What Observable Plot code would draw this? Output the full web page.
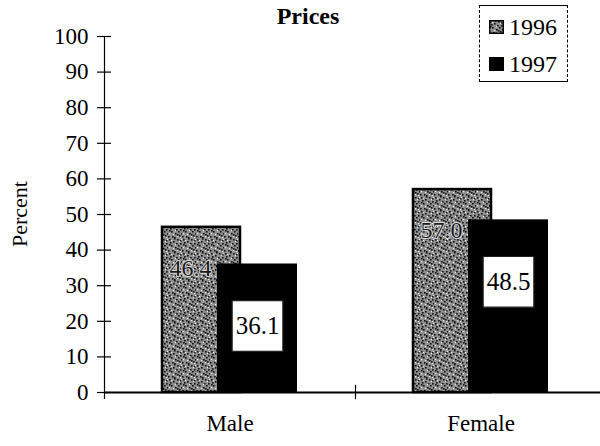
<!DOCTYPE html>
<html>
<head>
<meta charset="utf-8">
<script src="https://cdn.jsdelivr.net/npm/d3@7"></script>
<script src="https://cdn.jsdelivr.net/npm/@observablehq/plot@0.6"></script>
<style>
  html, body { margin: 0; padding: 0; background: white; }
  #wrap { position: relative; width: 600px; height: 446px; font-family: "Liberation Serif", "Times New Roman", serif; color: #000; }
  #chart svg, #chart svg text { font-family: "Liberation Serif", "Times New Roman", serif !important; }
  #title { position: absolute; left: 0; width: 616px; top: 3px; text-align: center; font-weight: bold; font-size: 24px; }
  #ylab { position: absolute; left: 20px; top: 214px; font-size: 22px; transform: translate(-50%, -50%) rotate(-90deg); white-space: nowrap; }
  #legend { position: absolute; left: 479px; top: 5px; width: 87px; height: 75px; border-top: 1px solid #000; border-bottom: 1px solid #000; border-left: 1px dashed #000; border-right: 1px dashed #000; }
  .item { position: absolute; left: 9px; font-size: 24px; line-height: 24px; display: flex; align-items: center; }
  .item svg { margin-right: 5px; }
</style>
</head>
<body>
<div id="wrap">
  <div id="chart"></div>
  <div id="title"></div>
  <div id="ylab"></div>
  <div id="legend"></div>
</div>
<script>
const title = "Prices";
const yLabel = "Percent";
const categories = ["Male", "Female"];
const years = ["1996", "1997"];
const values1996 = [46.4, 57.0];
const values1997 = [36.1, 48.5];
const labels1996 = ["46.4", "57.0"];
const labels1997 = ["36.1", "48.5"];
const yTicks = [0, 10, 20, 30, 40, 50, 60, 70, 80, 90, 100];

const data1996 = categories.map((c, i) => ({cat: c, value: values1996[i], label: labels1996[i]}));
const data1997 = categories.map((c, i) => ({cat: c, value: values1997[i], label: labels1997[i]}));

const serif = "'Liberation Serif', 'Times New Roman', serif";

const chart = Plot.plot({
  width: 600,
  height: 446,
  marginLeft: 104,
  marginRight: 0,
  marginTop: 36,
  marginBottom: 54,
  x: {domain: categories, range: [104, 606], padding: 0, axis: null},
  y: {domain: [0, 100], range: [392, 36], axis: null},
  style: {fontFamily: serif, fontSize: "22px", background: "white", color: "black", overflow: "visible"},
  marks: [
    Plot.barY(data1996, {x: "cat", y: "value", fill: "url(#stip)", stroke: "black", strokeWidth: 2.5, insetLeft: 58, insetRight: 115}),
    Plot.barY(data1997, {x: "cat", y: "value", fill: "black", insetLeft: 113, insetRight: 58}),
    Plot.text(data1996, {x: "cat", y: "value", text: "label", dx: -39.5, dy: 41, fill: "#1a1a1a", stroke: "#ddd", strokeWidth: 2, fontSize: 24, fontFamily: serif}),
    Plot.dot(data1997, {x: "cat", y: "value", symbol: "square", r: 28.6, fill: "white", stroke: "#222", strokeWidth: 1.2, dx: 27.5, dy: 62}),
    Plot.text(data1997, {x: "cat", y: "value", text: "label", dx: 27.5, dy: 62, fill: "black", fontSize: 25, fontFamily: serif}),
    Plot.ruleY([0], {stroke: "black", strokeWidth: 2}),
    Plot.ruleX([categories[0]], {y1: -2, y2: 100, dx: -125.5, stroke: "black", strokeWidth: 1.2}),
    Plot.ruleX([categories[1]], {y1: -2, y2: 2, dx: -125.5, stroke: "black", strokeWidth: 1.2}),
    Plot.axisY({ticks: yTicks, tickSize: 14, dx: 7, tickPadding: 9, tickFormat: d => String(d), fontSize: 23, fontFamily: serif, label: null, stroke: "black", strokeWidth: 1.2}),
    Plot.axisX({tickSize: 0, tickPadding: 22, fontSize: 23, fontFamily: serif, label: null})
  ]
});

// stipple pattern for the 1996 bars
const ns = "http://www.w3.org/2000/svg";
const defs = document.createElementNS(ns, "defs");
let pat = `<pattern id="stip" patternUnits="userSpaceOnUse" width="14" height="14">
  <rect width="14" height="14" fill="#8e8e8e"/>`;
const darkDots = [[1,1],[5,3],[9,1],[12,5],[3,7],[7,9],[11,11],[0,12],[4,12],[8,5],[13,9],[2,4],[6,13],[10,7],[6,0],[1,6],[9,10],[12,2]];
const lightDots = [[3,2],[7,6],[11,3],[1,9],[5,10],[9,12],[13,1],[12,13]];
darkDots.forEach(([x, y]) => pat += `<rect x="${x}" y="${y}" width="1.6" height="1.6" fill="#111"/>`);
lightDots.forEach(([x, y]) => pat += `<rect x="${x}" y="${y}" width="1.2" height="1.2" fill="#eee"/>`);
pat += `</pattern>`;
defs.innerHTML = pat;
chart.insertBefore(defs, chart.firstChild);

document.getElementById("chart").appendChild(chart);
document.getElementById("title").textContent = title;
document.getElementById("ylab").textContent = yLabel;

const legend = document.getElementById("legend");
const fills = ["url(#stip)", "black"];
years.forEach((yr, i) => {
  const div = document.createElement("div");
  div.className = "item";
  div.style.top = (i === 0 ? 9 : 46) + "px";
  div.innerHTML = `<svg width="15" height="14"><rect x="0.75" y="0.75" width="13.5" height="12.5" fill="${fills[i]}" stroke="black" stroke-width="1.5"/></svg><span>${yr}</span>`;
  legend.appendChild(div);
});
</script>
</body>
</html>
